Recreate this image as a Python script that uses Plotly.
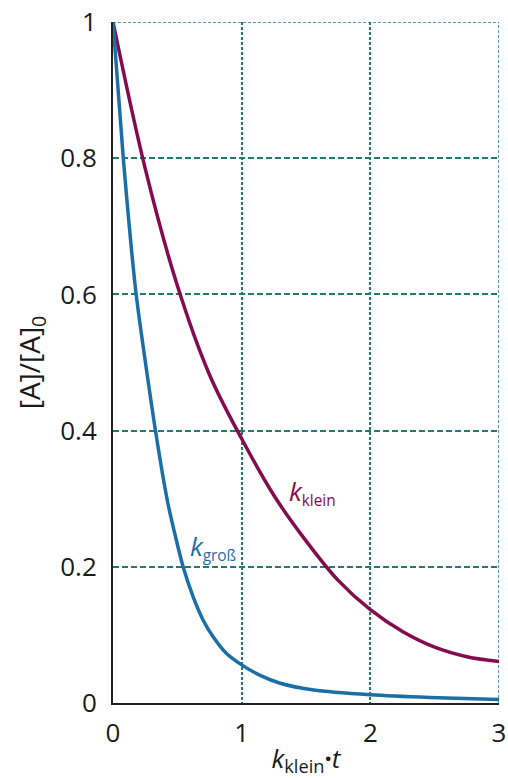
import plotly.graph_objects as go

# k_klein curve
t_klein = [0, 0.25, 0.5, 0.75, 1.0, 1.25, 1.5, 1.75, 2.0, 2.25, 2.5, 2.75, 3.0]
y_klein = [1.0, 0.785, 0.613, 0.482, 0.388, 0.305, 0.238, 0.18, 0.137, 0.105, 0.082, 0.068, 0.061]

# k_gross curve
t_gross = [0, 0.08, 0.18, 0.33, 0.43, 0.545, 0.623, 0.70, 0.777, 0.88, 1.0, 1.14, 1.30, 1.56,
           2.0, 2.46, 3.0]
y_gross = [1.0, 0.8, 0.6, 0.4, 0.29, 0.2, 0.156, 0.122, 0.0975, 0.073, 0.056, 0.041, 0.029,
           0.019, 0.012, 0.008, 0.005]

x_ticks = [0, 1, 2, 3]
x_ticklabels = ["0", "1", "2", "3"]
y_ticks = [0, 0.2, 0.4, 0.6, 0.8, 1]
y_ticklabels = ["0", "0.2", "0.4", "0.6", "0.8", "1"]

RED = "#830c4e"
BLUE = "#1b6ea6"
GRID = "#1f7a70"
AXIS = "#222222"
FONT = "Open Sans"

fig = go.Figure()
fig.add_trace(go.Scatter(x=t_klein, y=y_klein, mode="lines",
                         line=dict(color=RED, width=3.5, shape="spline", smoothing=1.0),
                         hoverinfo="skip"))
fig.add_trace(go.Scatter(x=t_gross, y=y_gross, mode="lines",
                         line=dict(color=BLUE, width=3.5, shape="spline", smoothing=0.6),
                         hoverinfo="skip"))

# border lines (top / right), dotted
fig.add_shape(type="line", xref="x", yref="y", x0=0, x1=3, y0=1, y1=1,
              line=dict(color=GRID, width=1.5, dash="3px,2px"), layer="below")
fig.add_shape(type="line", xref="x", yref="y", x0=3, x1=3, y0=0, y1=1,
              line=dict(color=GRID, width=1.5, dash="3px,2px"), layer="below")

fig.add_annotation(x=1.35, y=0.31, xref="x", yref="y", showarrow=False, xanchor="left",
                   text="<span style='font-size:26px'><i>k</i></span><sub>klein</sub>",
                   font=dict(family=FONT, size=22, color=RED))
fig.add_annotation(x=0.58, y=0.229, xref="x", yref="y", showarrow=False, xanchor="left",
                   text="<span style='font-size:26px'><i>k</i></span><sub>groß</sub>",
                   font=dict(family=FONT, size=22, color=BLUE))

fig.update_layout(
    width=508, height=778,
    margin=dict(l=113, r=9, t=22, b=75),
    plot_bgcolor="white", paper_bgcolor="white",
    showlegend=False,
    font=dict(family=FONT, size=26, color="#1a1a1a"),
    xaxis=dict(range=[0, 3], tickvals=x_ticks, ticktext=x_ticklabels, automargin=False,
               showgrid=True, gridcolor=GRID, gridwidth=1.5, griddash="3px,2px",
               showline=True, linecolor=AXIS, linewidth=2, ticklabeloverflow="allow",
               zeroline=False, ticks="", ticklen=0, ticklabelstandoff=6,
               title=dict(text="<i>k</i><sub>klein</sub><b>·</b><i>t</i>", standoff=2,
                          font=dict(size=26))),
    yaxis=dict(range=[0, 1], tickvals=y_ticks, ticktext=y_ticklabels, automargin=False,
               showgrid=True, gridcolor=GRID, gridwidth=1.5, griddash="6px,3px",
               showline=True, linecolor=AXIS, linewidth=2, ticklabeloverflow="allow",
               zeroline=False, ticks="", ticklen=0, ticklabelstandoff=9,
               title=dict(text="[A]/[A]<sub>0</sub>", standoff=11,
                          font=dict(size=28))),
)

# remove the page's default 8px body margin and scrollbars so the figure fills the window
fig.write_html("out.html",
               config={"displayModeBar": False},
               post_script="document.body.style.margin='0';document.body.style.overflow='hidden';")
